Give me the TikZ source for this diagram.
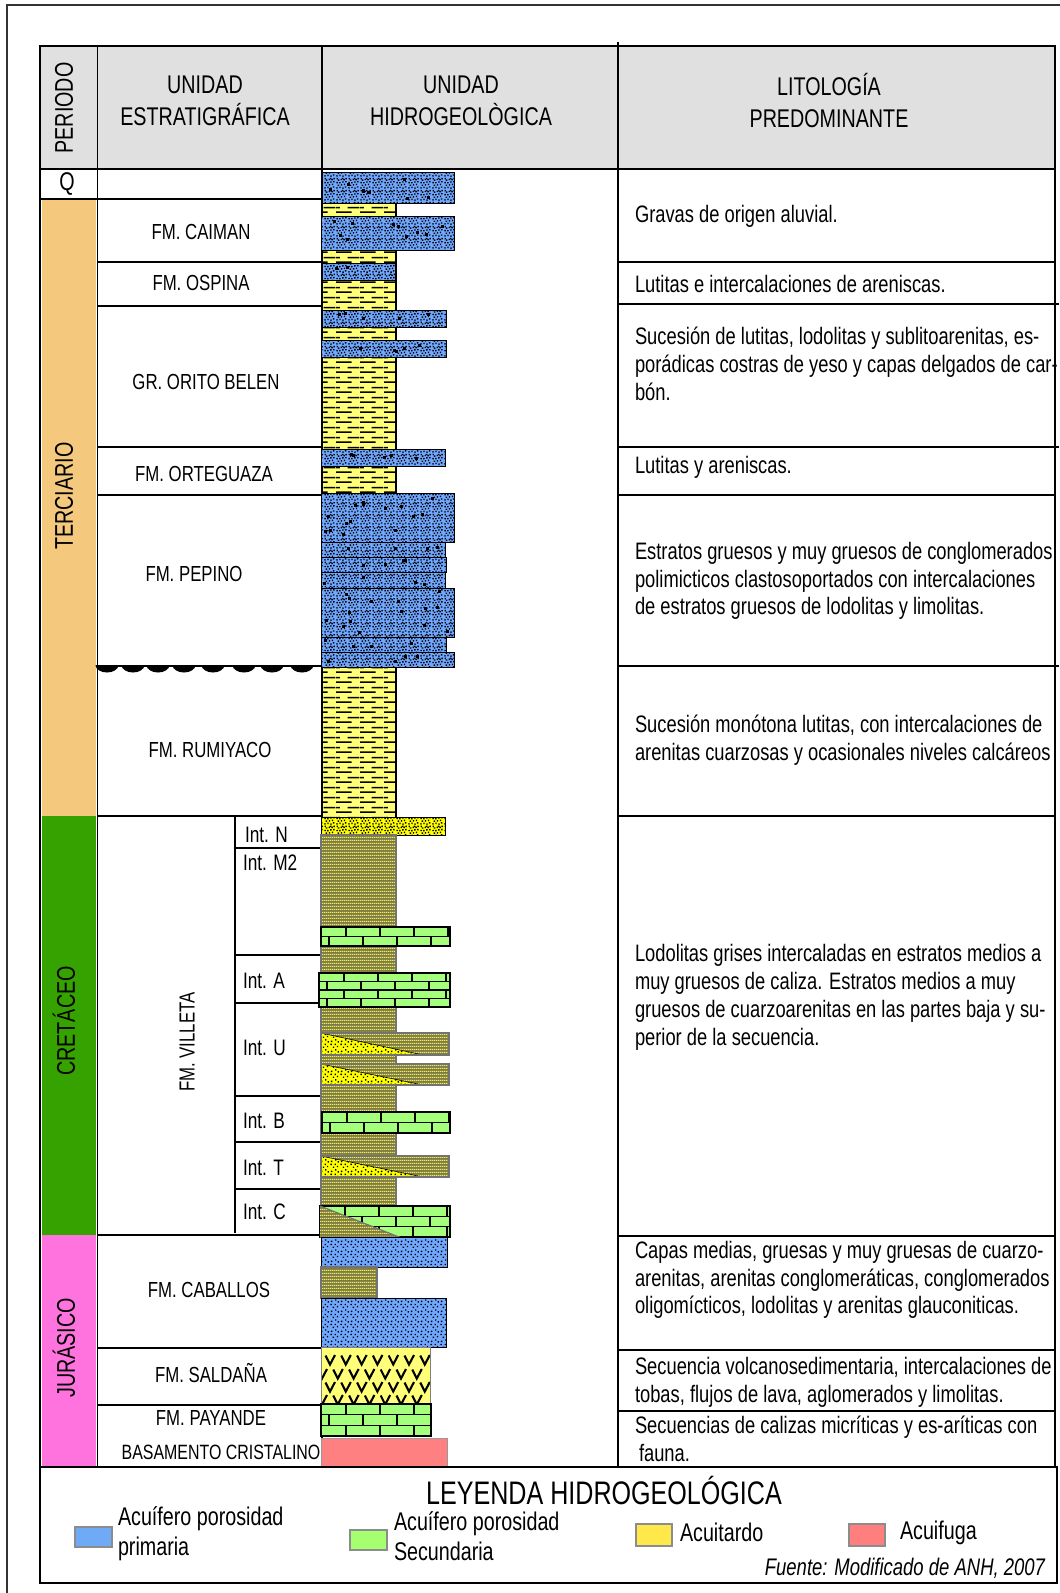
\documentclass[tikz,border=0pt]{standalone}
\usepackage{fontspec}
\setmainfont{Liberation Sans}[FakeStretch=0.77]
\usetikzlibrary{patterns}

% ---------- colours ----------
\definecolor{cblue}{HTML}{70A8FF}
\definecolor{shaleyel}{HTML}{FFFF78}
\definecolor{sandyel}{HTML}{FFFF00}
\definecolor{oliveshale}{HTML}{807D44}
\definecolor{olivestripe}{HTML}{F0EC62}
\definecolor{lmgreen}{HTML}{A4FF7C}
\definecolor{basepink}{HTML}{FF8080}
\definecolor{tercol}{HTML}{F4C97E}
\definecolor{crecol}{HTML}{35A200}
\definecolor{jurcol}{HTML}{FF73DE}
\definecolor{headgray}{HTML}{E0E0E0}
\definecolor{lgblue}{HTML}{6EAAF5}
\definecolor{lggreen}{HTML}{A6FF6E}
\definecolor{lgyellow}{HTML}{FFE84A}
\definecolor{lgpink}{HTML}{FF7F7F}

% ---------- lithology fills ----------
\newcommand\grain[2]{\pgfpathrectangle{\pgfqpoint{#1pt}{#2pt}}{\pgfqpoint{1.5pt}{1.5pt}}}
\newcommand\sgrain[2]{\pgfpathrectangle{\pgfqpoint{#1pt}{#2pt}}{\pgfqpoint{1.5pt}{1.5pt}}}
\pgfdeclarepatternformonly{densegrain}{\pgfqpoint{0pt}{0pt}}{\pgfqpoint{12pt}{12pt}}{\pgfqpoint{12pt}{12pt}}{%
  \grain{0.3}{0.4}\grain{3.6}{0.9}\grain{6.8}{0.2}\grain{9.6}{1.4}%
  \grain{1.8}{3.2}\grain{5.2}{3.6}\grain{8.4}{4.1}\grain{0.4}{6.0}%
  \grain{3.4}{5.9}\grain{6.6}{6.7}\grain{9.9}{6.9}\grain{2.0}{8.6}%
  \grain{4.9}{9.3}\grain{8.0}{9.2}\grain{10.2}{10.2}\grain{0.6}{10.3}%
  \grain{6.4}{10.3}\pgfusepath{fill}}
\pgfdeclarepatternformonly{sparsegrain}{\pgfqpoint{0pt}{0pt}}{\pgfqpoint{10pt}{10pt}}{\pgfqpoint{10pt}{10pt}}{%
  \sgrain{1}{1}\sgrain{5.5}{2.5}\sgrain{8.3}{0.4}\sgrain{3}{5.4}%
  \sgrain{7.4}{6.2}\sgrain{0.5}{8.4}\sgrain{5}{8.4}\pgfusepath{fill}}
\pgfdeclarepatternformonly{shaledash}{\pgfqpoint{0pt}{0pt}}{\pgfqpoint{24pt}{10pt}}{\pgfqpoint{24pt}{10pt}}{%
  \pgfpathrectangle{\pgfqpoint{0pt}{0pt}}{\pgfqpoint{16pt}{1.8pt}}%
  \pgfpathrectangle{\pgfqpoint{12pt}{5pt}}{\pgfqpoint{12pt}{1.8pt}}%
  \pgfpathrectangle{\pgfqpoint{0pt}{5pt}}{\pgfqpoint{4pt}{1.8pt}}%
  \pgfusepath{fill}}
\pgfdeclarepatternformonly{finestripes}{\pgfqpoint{0pt}{0pt}}{\pgfqpoint{2pt}{3.4pt}}{\pgfqpoint{2pt}{3.4pt}}{%
  \pgfpathrectangle{\pgfqpoint{0pt}{0pt}}{\pgfqpoint{2pt}{1.2pt}}\pgfusepath{fill}}

% conglomerate bed: blue, dense grains and some pebbles
\newcommand\conglbed[4]{%
  \fill[cblue] (#1,#2) rectangle (#3,#4);
  \fill[pattern=densegrain, pattern color=black] (#1,#2) rectangle (#3,#4);
  \pgfmathtruncatemacro\nbig{(#3-#1)*(#4-#2)/420}
  \foreach \k in {1,...,\nbig}{%
    \pgfmathsetmacro\gx{#1+2+rnd*(#3-#1-7)}%
    \pgfmathsetmacro\gy{#2+2+rnd*(#4-#2-7)}%
    \fill (\gx,\gy) rectangle ++(3,3);}
  \draw[line width=0.9pt] (#1,#2) rectangle (#3,#4);}
% sandstone bed: blue, sparse grains
\newcommand\sandbed[4]{%
  \fill[cblue] (#1,#2) rectangle (#3,#4);
  \fill[pattern=sparsegrain, pattern color=black] (#1,#2) rectangle (#3,#4);
  \draw[line width=0.9pt] (#1,#2) rectangle (#3,#4);}
% grey-olive laminated shale
\newcommand\olivebed[4]{%
  \fill[oliveshale] (#1,#2) rectangle (#3,#4);
  \fill[pattern=finestripes, pattern color=olivestripe] (#1,#2) rectangle (#3,#4);
  \draw[line width=1.3pt, black!55] (#1,#2) rectangle (#3,#4);}
% limestone bed with bricks: x1 y1 x2 y2 rows
\newcommand\limebed[5]{%
  \fill[lmgreen] (#1,#2) rectangle (#3,#4);
  \begin{scope}
    \clip (#1,#2) rectangle (#3,#4);
    \pgfmathsetmacro\rh{(#4-#2)/#5}
    \foreach \i in {1,...,#5}{%
      \pgfmathsetmacro\ya{#2+(\i-1)*\rh}%
      \pgfmathsetmacro\yb{#2+\i*\rh}%
      \pgfmathsetmacro\off{#1+8+mod(\i,2)*17}%
      \draw[line width=1.5pt] (#1,\yb) -- (#3,\yb);
      \foreach \j in {0,...,3}{%
        \draw[line width=1.5pt] (\off+\j*34,\ya) -- (\off+\j*34,\yb);}}
  \end{scope}
  \draw[line width=1.3pt] (#1,#2) rectangle (#3,#4);}
% shale bed with a sandstone wedge thinning to the right: x1 y1 x2 y2 xtip
\newcommand\wedgebed[5]{%
  \fill[oliveshale] (#1,#2) rectangle (#3,#4);
  \fill[pattern=finestripes, pattern color=olivestripe] (#1,#2) rectangle (#3,#4);
  \fill[sandyel] (#1,#2) -- (#5,#4) -- (#1,#4) -- cycle;
  \fill[pattern=sparsegrain, pattern color=black] (#1,#2) -- (#5,#4) -- (#1,#4) -- cycle;
  \draw[line width=0.6pt] (#1,#2) -- (#5,#4);
  \draw[line width=1.6pt, black!55] (#1,#2) rectangle (#3,#4);}

\begin{document}
\begin{tikzpicture}[x=1pt,y=-1pt,
  every node/.style={inner sep=0pt, outer sep=0pt},
  grid/.style={line width=1.6pt, black},
  hdr/.style={font=\fontsize{25.6}{32}\selectfont, align=center},
  per/.style={font=\fontsize{25.6}{28}\selectfont, rotate=90},
  unitlab/.style={font=\fontsize{21.8}{24}\selectfont},
  intlab/.style={font=\fontsize{22.4}{24}\selectfont, anchor=west},
  lito/.style={font=\fontsize{23.8}{27.8}\selectfont, align=left, anchor=west},
  lgtext/.style={font=\fontsize{25.6}{30}\selectfont, align=left, anchor=west},
  swatch/.style={line width=1.4pt, draw=black!45}]
\pgfmathsetseed{11}
\useasboundingbox (0,0) rectangle (1060,1593);
\fill[white] (0,0) rectangle (1060,1593);

% outer frame
\draw[line width=1.5pt, black!80] (7,1593) -- (7,5) -- (1060,5);

% header band and period bars
\fill[headgray] (40,46) rectangle (1055,169);
\fill[tercol] (42,200) rectangle (96,816);
\fill[crecol] (42,816) rectangle (96,1235);
\fill[jurcol] (42,1235) rectangle (96,1466);

% table grid
\draw[grid] (40,46) rectangle (1055,1467);
\draw[grid] (40,169) -- (1055,169);
\draw[grid] (97.5,46) -- (97.5,1467);
\draw[grid] (322,46) -- (322,1467);
\draw[grid] (618,42) -- (618,1467);
\draw[grid] (40,199) -- (322,199);
\foreach \y in {262,306,447,495,666,816,1235,1348,1405}
  \draw[grid] (97.5,\y) -- (322,\y);
\foreach \y in {262,495,816,1236,1350,1411}
  \draw[grid] (618,\y) -- (1055,\y);
\foreach \y in {304,447,666}
  \draw[grid] (618,\y) -- (1059,\y);
% Villeta members
\draw[grid] (235,816) -- (235,1233);
\foreach \y in {848,955,1003,1096,1142,1189}
  \draw[grid] (235,\y) -- (322,\y);

% unconformity at the base of Pepino
\foreach \cx in {107,133,158,184,213,244,272,302}
  \fill (\cx-11.5,665) arc[start angle=180, end angle=0, x radius=11.5, y radius=7.5] -- cycle;

% ---------- lithological column ----------
% Tertiary shale background
\fill[shaleyel] (322,203) rectangle (396,817);
\fill[pattern=shaledash, pattern color=black] (322,203) rectangle (396,817);
\draw[line width=1.1pt] (322,203) -- (322,817) (396,203) -- (396,817);
% conglomerate beds
\conglbed{322}{172}{454}{203}
\conglbed{321}{216}{454}{250}
\conglbed{322}{263}{395}{280}
\conglbed{322}{310}{446}{327}
\conglbed{321}{340}{446}{357}
\conglbed{321}{449}{445}{466}
\conglbed{321}{493}{454}{542}
\conglbed{321}{542}{445}{557}
\conglbed{321}{557}{446}{572}
\conglbed{321}{572}{445}{588}
\conglbed{321}{588}{454}{637}
\conglbed{321}{637}{446}{652}
\conglbed{321}{652}{454}{667}
% Int. N sandstone
\fill[sandyel] (321,817) rectangle (445,835);
\fill[pattern=densegrain, pattern color=black] (321,817) rectangle (445,835);
\draw[line width=0.9pt] (321,817) rectangle (445,835);
% Cretaceous shale background
\olivebed{321}{835}{396}{1237}
\limebed{321}{927}{450}{946}{2}
\limebed{319}{973}{450}{1007}{4}
\wedgebed{321}{1033}{449}{1055}{423}
\wedgebed{321}{1064}{449}{1085}{423}
\limebed{322}{1112}{450}{1133}{2}
\wedgebed{321}{1156}{449}{1177}{423}
\limebed{320}{1206}{450}{1237}{3}
\fill[oliveshale] (320,1206) -- (399,1237) -- (320,1237) -- cycle;
\fill[pattern=finestripes, pattern color=olivestripe] (320,1206) -- (399,1237) -- (320,1237) -- cycle;
\draw[line width=1.2pt, black!55] (320,1206) -- (399,1237) -- (320,1237);
% Jurassic
\sandbed{321}{1237}{447}{1267}
\olivebed{321}{1267}{377}{1298}
\sandbed{321}{1298}{446}{1347}
\fill[shaleyel] (321,1347) rectangle (430,1404);
\begin{scope}
  \clip (321,1347) rectangle (430,1404);
  \foreach \yy/\xs in {1360/330,1374/322,1387/330,1400/322}
    \foreach \k in {0,...,6}
      \draw[line width=2.1pt] (\xs+\k*15.8-4.5,\yy-4.5) -- (\xs+\k*15.8,\yy+4.5) -- (\xs+\k*15.8+5,\yy-5);
\end{scope}
\draw[line width=0.9pt, black!50] (321,1347) rectangle (430,1404);
\limebed{321}{1404}{431}{1436}{3}
\fill[basepink] (321,1438) rectangle (447,1467);
\draw[line width=0.9pt, black!40] (321,1438) rectangle (447,1467);

% ---------- header texts ----------
\node[per] (pPer) at (64,108) {PERIODO};
\node[hdr] (hEst) at (205,101) {UNIDAD\\ESTRATIGRÁFICA};
\node[hdr] (hHid) at (461,101) {UNIDAD\\HIDROGEOLÒGICA};
\node[hdr] (hLit) at (829,101) {LITOLOGÍA\\PREDOMINANTE};

% periods
\node[font=\fontsize{25.6}{28}\selectfont] (pQ) at (67,184) {Q};
\node[per] (pTer) at (64,496) {TERCIARIO};
\node[per] (pCre) at (64,1021) {CRETÁCEO};
\node[per] (pJur) at (64,1348) {JURÁSICO};

% stratigraphic units
\node[unitlab] (uCai) at (201,232) {FM. CAIMAN};
\node[unitlab] (uOsp) at (201,283) {FM. OSPINA};
\node[unitlab] (uOri) at (206,382) {GR. ORITO BELEN};
\node[unitlab] (uOrt) at (204,474) {FM. ORTEGUAZA};
\node[unitlab] (uPep) at (194,574) {FM. PEPINO};
\node[unitlab] (uRum) at (210,750) {FM. RUMIYACO};
\node[unitlab, rotate=90] (uVil) at (187,1042) {FM. VILLETA};
\node[unitlab] (uCab) at (209,1290) {FM. CABALLOS};
\node[unitlab] (uSal) at (211,1373) {FM. SALDAÑA};
\node[unitlab] (uPay) at (211,1418) {FM. PAYANDE};
\node[unitlab, font=\fontsize{20.7}{24}\selectfont] (uBas) at (221,1452) {BASAMENTO CRISTALINO};

% Villeta members
\node[intlab] (iN) at (245,835) {Int. N};
\node[intlab] (iM) at (243,863) {Int. M2};
\node[intlab] (iA) at (243,981) {Int. A};
\node[intlab] (iU) at (243,1048) {Int. U};
\node[intlab] (iB) at (243,1121) {Int. B};
\node[intlab] (iT) at (243,1168) {Int. T};
\node[intlab] (iC) at (243,1212) {Int. C};

% lithology descriptions
\node[lito] (d1) at (635,216) {Gravas de origen aluvial.};
\node[lito] (d2) at (635,284) {Lutitas e intercalaciones de areniscas.};
\node[lito] (d3) at (635,364) {Sucesión de lutitas, lodolitas y sublitoarenitas, es-\\porádicas costras de yeso y capas delgados de car-\\bón.};
\node[lito] (d4) at (635,467) {Lutitas y areniscas.};
\node[lito] (d5) at (635,581) {Estratos gruesos y muy gruesos de conglomerados\\polimicticos clastosoportados con intercalaciones\\de estratos gruesos de lodolitas y limolitas.};
\node[lito] (d6) at (635,740) {Sucesión monótona lutitas, con intercalaciones de\\arenitas cuarzosas y ocasionales niveles calcáreos};
\node[lito] (d7) at (635,997.5) {Lodolitas grises intercaladas en estratos medios a\\muy gruesos de caliza. Estratos medios a muy\\gruesos de cuarzoarenitas en las partes baja y su-\\perior de la secuencia.};
\node[lito] (d8) at (635,1280) {Capas medias, gruesas y muy gruesas de cuarzo-\\arenitas, arenitas conglomeráticas, conglomerados\\oligomícticos, lodolitas y arenitas glauconiticas.};
\node[lito] (d9) at (635,1382) {Secuencia volcanosedimentaria, intercalaciones de\\tobas, flujos de lava, aglomerados y limolitas.};
\node[lito] (d10) at (635,1439) {Secuencias de calizas micríticas y es-aríticas con\\\hspace*{4pt}fauna.};

% ---------- legend ----------
\draw[grid] (40,1467) rectangle (1057,1583);
\node[font=\fontsize{32.6}{36}\selectfont] (lgTitle) at (604,1491) {LEYENDA HIDROGEOLÓGICA};
\filldraw[swatch, fill=lgblue] (75,1527) rectangle (112,1547);
\node[lgtext] (lgPri) at (118,1534) {Acuífero porosidad\\primaria};
\filldraw[swatch, fill=lggreen] (350,1530) rectangle (387,1550);
\node[lgtext] (lgSec) at (394,1536) {Acuífero porosidad\\Secundaria};
\filldraw[swatch, fill=lgyellow] (636,1524) rectangle (672,1546);
\node[lgtext] (lgTar) at (680,1532) {Acuitardo};
\filldraw[swatch, fill=lgpink] (849,1524) rectangle (885,1546);
\node[lgtext] (lgFug) at (900,1533) {Acuifuga};
\node[font=\fontsize{24}{26}\selectfont\itshape, anchor=east] (lgSrc) at (1045,1568) {Fuente: Modificado de ANH, 2007};
\end{tikzpicture}
\end{document}
